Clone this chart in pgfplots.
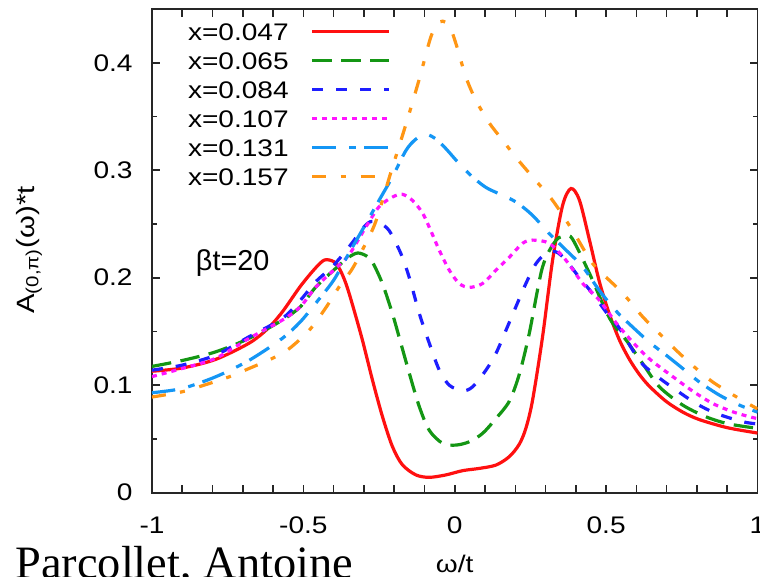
\documentclass[border=0pt]{standalone}
\usepackage{fontspec}
\setmainfont{Liberation Sans}[FakeStretch=1.17]
\newfontfamily\plainsf{Liberation Sans}
\newfontfamily\namefont{Liberation Serif}
\usepackage{pgfplots}
\pgfplotsset{compat=1.18}

\definecolor{cRed}{RGB}{255,16,16}
\definecolor{cGreen}{RGB}{20,150,20}
\definecolor{cBlue}{RGB}{30,30,255}
\definecolor{cMag}{RGB}{255,20,255}
\definecolor{cSky}{RGB}{20,150,245}
\definecolor{cOrange}{RGB}{255,150,20}

\newcommand\labfont{\fontsize{12}{14}\selectfont}

\begin{document}
\begin{tikzpicture}
\begin{axis}[
  at={(0,0)}, anchor=south west,
  width=302.75pt, height=241.85pt, scale only axis,
  xmin=-1, xmax=1, ymin=0, ymax=0.45,
  axis line style={line width=0.9pt, black!85},
  tick style={line width=0.8pt, black!85},
  tick align=inside,
  major tick length=4pt, minor tick length=2.5pt,
  xtick={-1,-0.5,0,0.5,1},
  xticklabels={-1,-0.5,0,0.5,1},
  extra x ticks={-0.9,-0.8,-0.7,-0.6,-0.4,-0.3,-0.2,-0.1,0.1,0.2,0.3,0.4,0.6,0.7,0.8,0.9},
  extra x tick labels={},
  ytick={0,0.1,0.2,0.3,0.4},
  yticklabels={0,0.1,0.2,0.3,0.4},
  minor y tick num=1,
  xticklabel style={font=\labfont, inner sep=0pt, anchor=north, yshift=-12pt},
  yticklabel style={font=\labfont, inner sep=0pt, anchor=east, xshift=-9.5pt},
  xlabel={ω/t},
  xlabel style={font=\labfont, at={(axis description cs:0.5,-0.1654)}, anchor=base, inner sep=0pt},
  ylabel={A\textsubscript{(0,π)}(ω)*t},
  ylabel style={font=\fontsize{12.5}{14}\selectfont, at={(axis description cs:-0.2031,0.5018)}, anchor=center, inner sep=0pt},
  legend plot pos=right,
  legend cell align=right,
  legend image code/.code={\draw[#1] (0pt,0pt) -- (38.5pt,0pt);},
  legend style={draw=none, fill=none, font=\labfont,
    at={(axis description cs:0.0595,0.9708)}, anchor=north west,
    inner sep=0pt, outer sep=0pt, row sep=5.9pt, column sep=11pt,
    nodes={inner sep=0pt, text height=8.6pt, text depth=0pt}},
  every axis plot/.append style={line width=1.6pt, smooth, tension=0.5},
]

% x = 0.047
\addplot[cRed, solid] coordinates {
(-1.0,0.113) (-0.9,0.116) (-0.79,0.124) (-0.68,0.139) (-0.62,0.152)
(-0.57,0.168) (-0.51,0.192) (-0.46,0.209) (-0.43,0.2165) (-0.40,0.215)
(-0.38,0.208) (-0.36,0.195) (-0.34,0.177) (-0.305,0.142) (-0.272,0.105)
(-0.239,0.071) (-0.206,0.043) (-0.173,0.026) (-0.128,0.0165) (-0.084,0.0143)
(-0.03,0.0165) (0.026,0.0205) (0.081,0.0226) (0.136,0.0257) (0.18,0.0335)
(0.213,0.045) (0.235,0.060) (0.257,0.086) (0.29,0.145) (0.323,0.216)
(0.356,0.267) (0.384,0.283) (0.412,0.272) (0.445,0.235) (0.478,0.196)
(0.511,0.166) (0.544,0.142) (0.577,0.124) (0.61,0.110) (0.643,0.099)
(0.698,0.085) (0.753,0.075) (0.808,0.068) (0.9,0.0605) (1.0,0.0555)
};
\addlegendentry{x=0.047}

% x = 0.065
\addplot[cGreen, dash pattern=on 9.75pt off 4.75pt] coordinates {
(-1.0,0.1175) (-0.9,0.123) (-0.79,0.131) (-0.68,0.1435) (-0.57,0.1605)
(-0.51,0.173) (-0.46,0.191) (-0.40,0.207) (-0.35,0.219) (-0.32,0.223)
(-0.29,0.220) (-0.272,0.2147) (-0.239,0.1946) (-0.206,0.1667) (-0.178,0.139)
(-0.15,0.111) (-0.117,0.080) (-0.084,0.058) (-0.04,0.0459) (0.004,0.0443)
(0.048,0.0474) (0.092,0.0552) (0.136,0.069) (0.18,0.085) (0.213,0.110)
(0.246,0.148) (0.29,0.210) (0.335,0.235) (0.368,0.2385) (0.389,0.236)
(0.445,0.204) (0.511,0.1625) (0.566,0.142) (0.621,0.120) (0.676,0.0985)
(0.753,0.0815) (0.83,0.0706) (0.897,0.0645) (0.963,0.0613) (1.0,0.060)
};
\addlegendentry{x=0.065}

% x = 0.084
\addplot[cBlue, dash pattern=on 5.5pt off 6.5pt] coordinates {
(-1.0,0.114) (-0.9,0.1187) (-0.79,0.128) (-0.68,0.145) (-0.57,0.162)
(-0.51,0.179) (-0.46,0.196) (-0.40,0.2116) (-0.34,0.232) (-0.31,0.244)
(-0.28,0.252) (-0.25,0.251) (-0.217,0.244) (-0.178,0.2225) (-0.15,0.200)
(-0.117,0.1667) (-0.084,0.139) (-0.051,0.114) (-0.018,0.100) (0.026,0.0948)
(0.059,0.0985) (0.103,0.114) (0.136,0.1295) (0.169,0.151) (0.202,0.173)
(0.235,0.1946) (0.268,0.213) (0.301,0.2225) (0.335,0.224) (0.368,0.216)
(0.412,0.200) (0.456,0.185) (0.50,0.168) (0.544,0.153) (0.61,0.123)
(0.665,0.109) (0.731,0.0955) (0.797,0.083) (0.863,0.0738) (0.951,0.066)
(1.0,0.064)
};
\addlegendentry{x=0.084}

% x = 0.107
\addplot[cMag, dash pattern=on 2.5pt off 2.5pt] coordinates {
(-1.0,0.108) (-0.9,0.1156) (-0.79,0.125) (-0.68,0.1435) (-0.57,0.1605)
(-0.51,0.173) (-0.46,0.191) (-0.40,0.207) (-0.35,0.221) (-0.294,0.247)
(-0.25,0.266) (-0.206,0.275) (-0.173,0.2776) (-0.14,0.272) (-0.106,0.260)
(-0.078,0.243) (-0.051,0.2255) (-0.018,0.207) (0.015,0.1946) (0.048,0.191)
(0.092,0.1946) (0.136,0.207) (0.18,0.219) (0.224,0.232) (0.257,0.235)
(0.312,0.232) (0.368,0.216) (0.423,0.1946) (0.478,0.179) (0.533,0.158)
(0.588,0.140) (0.643,0.1245) (0.72,0.108) (0.786,0.0945) (0.852,0.083)
(0.918,0.0753) (0.974,0.0706) (1.0,0.069)
};
\addlegendentry{x=0.107}

% x = 0.131
\addplot[cSky, dash pattern=on 11.7pt off 6.7pt on 3.3pt off 4.2pt] coordinates {
(-1.0,0.093) (-0.9,0.097) (-0.79,0.1078) (-0.68,0.123) (-0.57,0.1435)
(-0.51,0.159) (-0.46,0.176) (-0.40,0.1977) (-0.35,0.2225) (-0.294,0.250)
(-0.25,0.272) (-0.206,0.2937) (-0.161,0.3185) (-0.128,0.329) (-0.095,0.3334)
(-0.062,0.329) (-0.029,0.320) (0.015,0.306) (0.059,0.2937) (0.103,0.284)
(0.147,0.278) (0.202,0.2705) (0.257,0.258) (0.312,0.241) (0.368,0.2256)
(0.423,0.210) (0.478,0.188) (0.533,0.169) (0.588,0.154) (0.643,0.140)
(0.698,0.128) (0.753,0.1156) (0.808,0.103) (0.874,0.0908) (0.94,0.0815)
(1.0,0.075)
};
\addlegendentry{x=0.131}

% x = 0.157
\addplot[cOrange, dash pattern=on 7pt off 7.2pt on 2.5pt off 7.5pt] coordinates {
(-1.0,0.089) (-0.9,0.0939) (-0.845,0.0985) (-0.745,0.1078) (-0.679,0.1156)
(-0.602,0.125) (-0.547,0.134) (-0.481,0.151) (-0.426,0.172) (-0.382,0.1915)
(-0.338,0.2085) (-0.294,0.232) (-0.26,0.253) (-0.211,0.298) (-0.161,0.343)
(-0.117,0.385) (-0.079,0.424) (-0.055,0.436) (-0.04,0.4387) (-0.018,0.4347)
(0.004,0.4177) (0.037,0.3866) (0.07,0.365) (0.114,0.344) (0.158,0.328)
(0.202,0.312) (0.257,0.2937) (0.323,0.272) (0.389,0.244) (0.456,0.213)
(0.522,0.1946) (0.566,0.182) (0.621,0.1636) (0.676,0.148) (0.731,0.1326)
(0.797,0.1156) (0.852,0.103) (0.93,0.0892) (1.0,0.078)
};
\addlegendentry{x=0.157}

\node[anchor=base west, inner sep=0pt, font=\plainsf\fontsize{14.4}{16}\selectfont]
  at (axis cs:-0.856,0.207) {βt=20};
\end{axis}

\node[anchor=base west, inner sep=0pt, font=\namefont\fontsize{23.2}{26}\selectfont]
  at (-68.5pt,-43.15pt) {Parcollet, Antoine};

\pgfresetboundingbox
\useasboundingbox (-76pt,-42.15pt) rectangle (304pt,246.35pt);
\end{tikzpicture}
\end{document}
